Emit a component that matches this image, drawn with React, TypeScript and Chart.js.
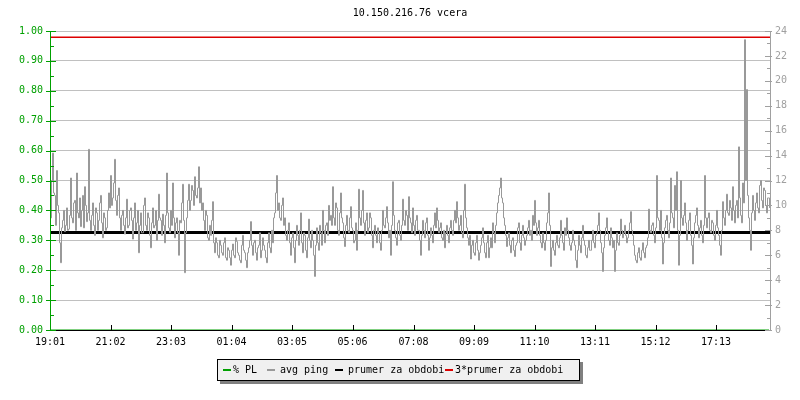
import { useEffect, useRef } from 'react';
import Chart from 'chart.js/auto';

const TITLE = '10.150.216.76 vcera';
const FONT = '"DejaVu Sans Mono", monospace';

// x axis tick labels (time of day, 24h window starting 19:01)
const timeLabels = ['19:01', '21:02', '23:03', '01:04', '03:05', '05:06', '07:08', '09:09', '11:10', '13:11', '15:12', '17:13'];
const startLabel = '19:01';
const windowMinutes = 1440;
const sampleStepMin = 2;

// avg ping [ms], one sample every 2 minutes
const pingMs = [
  9.0, 12.0, 14.2, 11.0, 10.8, 8.4, 12.8, 10.0, 9.4, 7.0, 5.4, 8.2, 8.8, 9.6, 7.9, 8.4, 9.8, 8.0, 8.1, 9.2,
  12.2, 9.0, 8.6, 10.2, 10.4, 8.0, 12.6, 9.4, 9.0, 10.6, 8.3, 9.6, 10.8, 8.2, 11.5, 10.0, 8.7, 9.4, 14.5, 8.8,
  8.0, 9.2, 10.2, 8.4, 7.6, 9.8, 9.4, 8.0, 8.8, 10.2, 10.8, 8.6, 7.4, 9.4, 9.0, 8.0, 8.2, 9.6, 11.0, 9.8,
  12.4, 10.0, 10.6, 11.8, 13.7, 10.4, 9.2, 10.8, 11.4, 9.0, 8.0, 9.2, 9.6, 8.4, 7.7, 9.0, 10.5, 8.2, 8.4, 9.6,
  9.8, 8.8, 7.3, 9.0, 10.2, 8.0, 8.6, 9.6, 6.2, 8.4, 9.4, 7.8, 7.8, 10.0, 10.6, 8.4, 8.0, 9.4, 9.0, 7.6,
  6.6, 8.6, 9.8, 8.2, 8.4, 9.6, 7.2, 8.8, 10.9, 9.0, 8.8, 7.6, 9.3, 8.4, 7.0, 9.2, 12.6, 9.4, 8.2, 7.8,
  9.6, 8.4, 11.8, 9.0, 7.4, 8.6, 9.0, 7.8, 6.0, 8.8, 8.6, 10.2, 11.7, 8.8, 4.6, 7.8, 9.0, 10.4, 11.7, 9.6,
  10.4, 11.6, 11.2, 10.0, 12.3, 10.8, 10.6, 11.4, 13.1, 10.2, 11.4, 9.6, 10.2, 8.8, 8.0, 9.6, 9.2, 7.4, 7.2, 8.4,
  7.6, 8.8, 10.3, 7.0, 6.2, 7.4, 7.0, 6.0, 5.8, 7.2, 6.8, 6.2, 6.0, 7.0, 7.4, 5.8, 5.6, 6.6, 6.4, 5.8,
  5.2, 6.4, 6.9, 6.0, 5.8, 7.4, 7.1, 6.2, 6.0, 5.6, 5.4, 6.8, 7.6, 6.4, 6.2, 5.6, 5.0, 6.2, 6.6, 7.2,
  8.7, 6.8, 6.0, 7.0, 7.2, 6.2, 5.6, 6.6, 6.8, 7.8, 5.8, 6.4, 7.4, 6.8, 6.4, 5.8, 5.4, 7.0, 7.8, 6.6,
  6.2, 8.0, 7.0, 9.0, 9.4, 11.0, 12.4, 9.6, 10.2, 9.0, 8.8, 10.0, 10.6, 8.4, 9.0, 7.6, 7.2, 8.0, 8.6, 7.0,
  6.0, 7.4, 7.8, 6.6, 5.4, 7.2, 8.4, 7.6, 6.8, 8.0, 9.4, 7.0, 6.2, 7.8, 7.6, 6.4, 5.8, 7.4, 8.9, 7.2,
  6.6, 8.0, 7.2, 6.0, 4.3, 6.8, 8.2, 7.0, 6.4, 8.4, 7.8, 6.8, 9.6, 8.0, 7.0, 8.4, 8.6, 7.6, 10.0, 8.8,
  9.2, 8.4, 11.5, 9.0, 8.4, 10.2, 9.8, 8.0, 7.6, 9.4, 11.0, 9.0, 8.6, 7.4, 6.7, 8.4, 9.2, 8.0, 7.8, 9.0,
  9.9, 8.2, 8.0, 7.0, 7.2, 8.6, 6.4, 8.0, 11.3, 9.0, 8.4, 9.6, 11.2, 8.6, 7.6, 8.8, 9.4, 7.8, 8.2, 9.4,
  9.0, 7.6, 6.6, 8.0, 8.4, 7.6, 7.0, 8.2, 7.8, 7.0, 6.4, 8.0, 9.6, 8.4, 8.2, 9.0, 9.9, 8.6, 7.4, 8.0,
  6.0, 8.4, 11.9, 9.2, 8.0, 7.4, 6.8, 8.6, 8.8, 7.6, 7.2, 8.4, 10.5, 8.8, 8.4, 9.6, 9.2, 8.0, 10.7, 9.0,
  8.6, 7.8, 9.8, 8.4, 7.6, 8.8, 9.2, 8.0, 8.0, 7.2, 6.0, 7.6, 8.8, 8.0, 7.4, 8.6, 9.0, 7.6, 6.4, 7.4,
  8.2, 7.6, 7.0, 8.4, 9.4, 8.2, 9.8, 8.8, 7.8, 8.2, 8.6, 7.4, 7.2, 8.0, 6.6, 7.8, 8.4, 7.6, 7.0, 8.2,
  8.8, 8.0, 7.6, 8.8, 9.6, 8.6, 10.3, 9.0, 8.0, 8.4, 9.2, 7.8, 7.4, 9.6, 11.7, 9.0, 8.2, 7.4, 6.8, 7.6,
  5.7, 6.8, 7.2, 6.2, 6.0, 7.0, 7.6, 6.4, 5.6, 6.2, 6.8, 7.4, 8.2, 7.0, 6.2, 5.8, 7.0, 7.6, 5.8, 6.6,
  7.4, 6.6, 8.6, 7.8, 7.0, 8.4, 9.4, 10.2, 10.8, 11.4, 12.2, 10.6, 10.2, 9.0, 8.4, 7.6, 6.7, 7.4, 7.8, 6.8,
  6.2, 7.2, 7.4, 6.4, 5.9, 6.8, 7.0, 8.2, 8.6, 7.0, 6.4, 7.6, 8.4, 7.4, 6.8, 7.2, 7.6, 8.2, 8.8, 7.6,
  8.0, 7.2, 9.2, 8.4, 10.4, 8.6, 7.6, 8.2, 8.8, 7.6, 7.0, 6.6, 7.8, 7.0, 6.4, 7.2, 8.6, 9.4, 11.0, 8.4,
  5.1, 6.6, 7.2, 6.4, 6.0, 7.0, 7.6, 6.8, 6.6, 7.4, 8.8, 7.6, 7.0, 6.4, 8.2, 7.6, 9.0, 8.0, 7.4, 6.8,
  6.4, 7.0, 8.0, 7.2, 6.8, 5.6, 5.0, 6.4, 7.6, 6.8, 6.2, 7.4, 8.4, 7.2, 6.8, 6.0, 5.8, 6.6, 7.2, 6.4,
  6.4, 7.2, 8.0, 7.0, 6.6, 7.6, 7.8, 8.4, 9.4, 8.0, 7.0, 6.2, 4.7, 6.6, 7.6, 8.2, 9.0, 7.8, 7.2, 6.8,
  8.2, 7.4, 6.6, 7.2, 4.7, 6.4, 7.8, 7.0, 6.8, 7.6, 8.9, 8.0, 7.4, 7.8, 8.4, 7.6, 7.0, 7.4, 8.0, 8.6,
  9.5, 8.0, 7.6, 6.8, 6.0, 5.6, 5.4, 6.2, 6.6, 5.8, 5.6, 6.4, 7.0, 6.2, 5.8, 6.6, 6.8, 7.4, 9.7, 8.0,
  7.8, 8.4, 8.6, 7.6, 7.0, 8.2, 12.4, 9.0, 8.8, 8.0, 9.6, 7.4, 5.3, 7.0, 8.2, 8.8, 9.2, 8.0, 7.4, 8.6,
  12.2, 9.4, 9.0, 8.2, 11.6, 9.6, 12.7, 8.0, 5.2, 7.6, 12.0, 9.0, 8.4, 9.2, 10.2, 8.6, 7.2, 8.0, 8.8, 9.4,
  7.6, 6.8, 5.3, 7.4, 8.6, 9.2, 9.8, 8.4, 7.4, 8.2, 8.8, 7.6, 7.0, 8.4, 12.4, 9.0, 8.2, 9.0, 9.4, 8.0,
  7.8, 8.8, 8.6, 7.6, 7.2, 8.4, 9.6, 8.2, 7.6, 6.8, 6.0, 8.0, 10.3, 9.0, 8.4, 9.6, 10.9, 9.4, 9.2, 10.4,
  9.8, 8.8, 11.5, 9.6, 8.6, 10.0, 10.4, 9.0, 14.7, 10.6, 9.2, 8.6, 11.8, 10.2, 23.3, 12.0, 19.3, 10.8, 9.0, 8.0,
  6.4, 9.4, 10.8, 9.6, 8.8, 10.2, 11.0, 9.8, 9.4, 11.6, 12.0, 10.4, 9.8, 11.4, 11.2, 10.0, 9.4, 10.6, 10.6, 9.8,
];

// packet loss [%]
const plTimes = [0, 1438];
const plPercent = [0, 0];

// average over the period [ms]
const avgPingMs = 7.83;

const legendLabels = ['% PL', 'avg ping', 'prumer za obdobi', '3*prumer za obdobi'];
const legendColors = ['#00a000', '#999999', '#000000', '#dd0000'];

const toMin = (s: string) => {
  const [h, m] = s.split(':').map(Number);
  return h * 60 + m;
};
const tickMinutes = timeLabels.map((l) => (toMin(l) - toMin(startLabel) + windowMinutes) % windowMinutes);

const framePlugin = {
  id: 'frame',
  afterDatasetsDraw(chart: any) {
    const { ctx, chartArea: ca, scales } = chart;
    const yL = scales.yL;
    const yR = scales.yR;
    const x = scales.x;
    ctx.save();
    ctx.lineWidth = 1;
    // bottom axis
    ctx.strokeStyle = '#000';
    ctx.beginPath();
    ctx.moveTo(ca.left, ca.bottom + 0.5);
    ctx.lineTo(ca.right, ca.bottom + 0.5);
    for (const m of tickMinutes) {
      const px = Math.round(x.getPixelForValue(m)) + 0.5;
      ctx.moveTo(px, ca.bottom);
      ctx.lineTo(px, ca.bottom - 5);
    }
    ctx.stroke();
    // left axis (green)
    ctx.strokeStyle = '#00a000';
    ctx.beginPath();
    ctx.moveTo(ca.left + 0.5, ca.top);
    ctx.lineTo(ca.left + 0.5, ca.bottom + 1);
    for (let i = 0; i <= 20; i++) {
      const py = Math.round(yL.getPixelForValue(i * 0.05)) + 0.5;
      if (i % 2 === 0) {
        ctx.moveTo(ca.left - 4, py);
        ctx.lineTo(ca.left + 6, py);
      } else {
        ctx.moveTo(ca.left, py);
        ctx.lineTo(ca.left + 4, py);
      }
    }
    ctx.stroke();
    // right axis (gray)
    ctx.strokeStyle = '#a0a0a0';
    ctx.beginPath();
    ctx.moveTo(ca.right + 0.5, ca.top);
    ctx.lineTo(ca.right + 0.5, ca.bottom + 1);
    for (let v = 0; v <= 24; v++) {
      const py = Math.round(yR.getPixelForValue(v)) + 0.5;
      if (v % 2 === 0) {
        ctx.moveTo(ca.right - 5, py);
        ctx.lineTo(ca.right + 2, py);
      } else {
        ctx.moveTo(ca.right - 3, py);
        ctx.lineTo(ca.right + 1, py);
      }
    }
    ctx.stroke();
    ctx.restore();
  },
  afterDraw(chart: any) {
    const { ctx, chartArea: ca } = chart;
    ctx.save();
    ctx.font = `10px ${FONT}`;
    ctx.fillStyle = '#000';
    ctx.textAlign = 'center';
    ctx.textBaseline = 'middle';
    ctx.fillText(TITLE, (ca.left + ca.right) / 2, 13);

    // legend box
    const bx = 217, by = 359, bw = 362, bh = 21;
    ctx.fillStyle = '#808080';
    ctx.fillRect(bx + 3, by + 3, bw + 1, bh + 1);
    ctx.fillStyle = '#f0f0f0';
    ctx.fillRect(bx, by, bw, bh);
    ctx.strokeStyle = '#000';
    ctx.lineWidth = 1;
    ctx.strokeRect(bx + 0.5, by + 0.5, bw, bh);
    const swatchX = [223, 267, 335, 445];
    const textX = [233, 280, 348, 455];
    ctx.textAlign = 'left';
    legendLabels.forEach((lab, i) => {
      ctx.fillStyle = legendColors[i];
      ctx.fillRect(swatchX[i], 369, 8, 2);
      ctx.fillStyle = '#000';
      ctx.fillText(lab, textX[i], 370);
    });
    ctx.restore();
  },
};

export default function App() {
  const ref = useRef<HTMLCanvasElement>(null);
  useEffect(() => {
    // each sample sits at the middle of its 2-minute interval
    const pingData = pingMs.map((v, i) => ({ x: (i + 0.5) * sampleStepMin, y: v }));
    const plData = plTimes.map((t, i) => ({ x: t, y: plPercent[i] }));
    const avgData = [{ x: 0, y: avgPingMs }, { x: windowMinutes, y: avgPingMs }];
    const avg3Data = [{ x: 0, y: 3 * avgPingMs }, { x: windowMinutes, y: 3 * avgPingMs }];
    const chart = new Chart(ref.current!, {
      type: 'line',
      data: {
        datasets: [
          { label: legendLabels[0], data: plData, yAxisID: 'yL', borderColor: legendColors[0], borderWidth: 1, pointRadius: 0 },
          { label: legendLabels[1], data: pingData, yAxisID: 'yR', borderColor: legendColors[1], borderWidth: 1, pointRadius: 0, stepped: 'before' },
          { label: legendLabels[2], data: avgData, yAxisID: 'yR', borderColor: legendColors[2], borderWidth: 3, pointRadius: 0 },
          { label: legendLabels[3], data: avg3Data, yAxisID: 'yR', borderColor: legendColors[3], borderWidth: 1.5, pointRadius: 0 },
        ],
      },
      options: {
        responsive: false,
        animation: false,
        devicePixelRatio: 1,
        parsing: false as any,
        normalized: true,
        layout: { padding: { top: 31, bottom: 50, left: 0, right: 0 } },
        plugins: { legend: { display: false }, tooltip: { enabled: false }, title: { display: false } },
        scales: {
          x: {
            type: 'linear',
            min: 0,
            max: windowMinutes,
            position: 'bottom',
            afterFit: (s: any) => { s.height = 20; },
            afterBuildTicks: (s: any) => { s.ticks = tickMinutes.map((v) => ({ value: v })); },
            ticks: {
              callback: (_v: any, i: number) => timeLabels[i],
              color: '#000',
              font: { family: FONT, size: 10 },
              padding: 6,
              maxRotation: 0,
              autoSkip: false,
            },
            grid: { display: false, drawTicks: false },
            border: { display: false },
          },
          yL: {
            type: 'linear',
            position: 'left',
            min: 0,
            max: 1,
            afterFit: (s: any) => { s.width = 50; },
            ticks: {
              stepSize: 0.05,
              autoSkip: false,
              color: '#00a000',
              font: { family: FONT, size: 10 },
              padding: 7,
              callback: (v: any) => (Math.round(Number(v) * 100) % 10 === 0 ? Number(v).toFixed(2) : ''),
            },
            grid: {
              drawTicks: false,
              lineWidth: 1,
              color: (c: any) => (Math.round(c.tick.value * 100) % 10 === 0 ? '#c0c0c0' : 'rgba(0,0,0,0)'),
            },
            border: { display: false },
          },
          yR: {
            type: 'linear',
            position: 'right',
            min: 0,
            max: 24,
            afterFit: (s: any) => { s.width = 30; },
            ticks: {
              stepSize: 1,
              autoSkip: false,
              color: '#a0a0a0',
              font: { family: FONT, size: 10 },
              padding: 5,
              callback: (v: any) => (Number(v) % 2 === 0 ? String(v) : ''),
            },
            grid: { drawOnChartArea: false, drawTicks: false },
            border: { display: false },
          },
        },
      },
      plugins: [framePlugin],
    });
    return () => chart.destroy();
  }, []);
  return (
    <div style={{ position: 'absolute', left: 0, top: 0, width: 800, height: 400, background: '#fff' }}>
      <canvas ref={ref} width={800} height={400} style={{ display: 'block', width: 800, height: 400 }} />
    </div>
  );
}
